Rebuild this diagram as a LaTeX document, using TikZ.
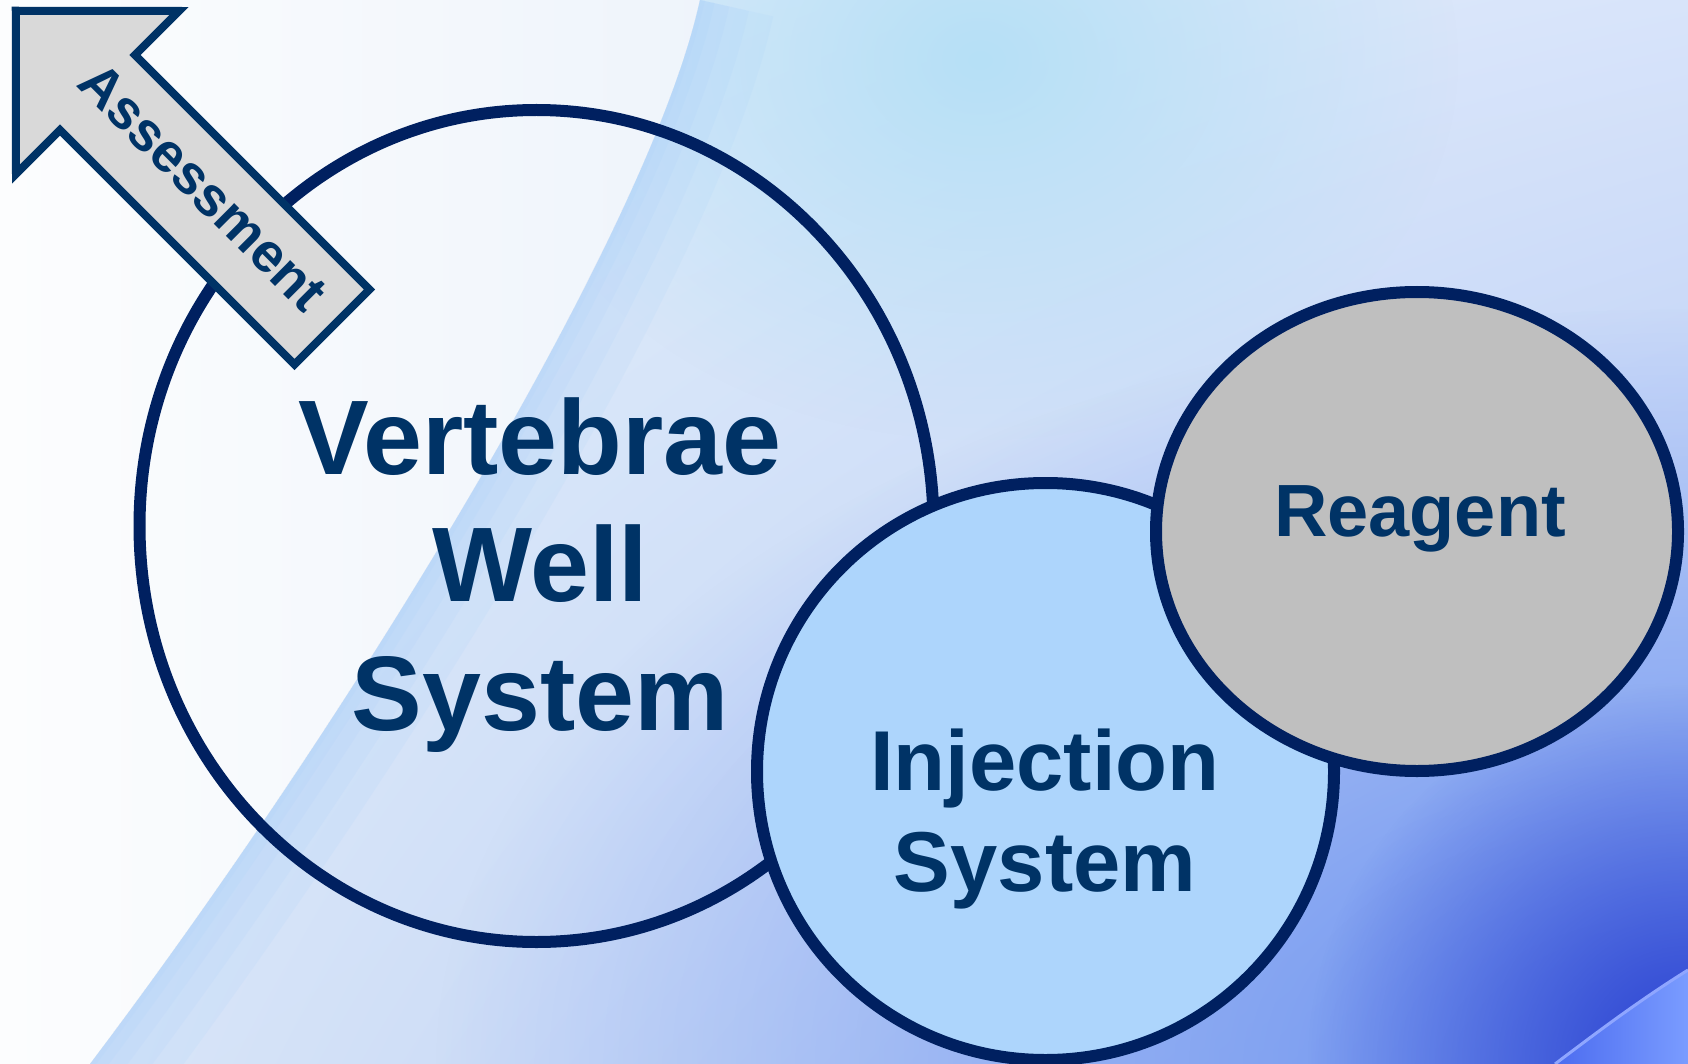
\documentclass[tikz,border=0pt]{standalone}
\usepackage{fontspec}
\setmainfont{Liberation Sans}
\usetikzlibrary{shapes.geometric,shadings,fadings}
\definecolor{navy}{HTML}{002060}
\definecolor{txt}{HTML}{003366}
\definecolor{injfill}{HTML}{ADD5FC}
\definecolor{reafill}{HTML}{BFBFBF}
\definecolor{arrfill}{HTML}{D9D9D9}
\definecolor{arrline}{HTML}{003366}
\definecolor{bgA}{HTML}{FCFDFE}
\definecolor{bgB}{HTML}{DCE8F7}
\definecolor{ulc}{HTML}{E4F1FB}
\definecolor{urc}{HTML}{D8E4FA}
\definecolor{llc}{HTML}{DCE8F8}
\definecolor{lrc}{HTML}{A8C0F4}
\definecolor{cyanish}{HTML}{B6E0F6}
\definecolor{medblue}{HTML}{6A90F0}
\definecolor{deep}{HTML}{2A40D0}
\definecolor{glow}{HTML}{A6CEF8}
\definecolor{cornA}{HTML}{4C6CF0}
\definecolor{cornB}{HTML}{7A9CFF}
\definecolor{cornL}{HTML}{8FA6FF}
\tikzfading[name=cornerfade, inner color=transparent!0, outer color=transparent!100]
\tikzset{
  ring/.style={draw=navy, line width=12pt, inner sep=0pt, outer sep=0pt},
  lbl/.style={text=txt, inner sep=0pt, anchor=base},
  bigfont/.style={font=\fontsize{106}{127}\selectfont\bfseries},
  midfont/.style={font=\fontsize{85}{102}\selectfont\bfseries},
  smallfont/.style={font=\fontsize{74}{89}\selectfont\bfseries},
  arrowfont/.style={font=\fontsize{55}{66}\selectfont\bfseries},
  bandline/.style={draw=glow, opacity=.13},
}
\begin{document}
\begin{tikzpicture}[x=1pt,y=-1pt]
\useasboundingbox (0,0) rectangle (1688,1064);
% background
\shade[left color=bgA, right color=bgB] (0,0) rectangle (1688,1064);
\begin{scope}
  \path[clip] (700,0) .. controls (650,230) and (350,720) .. (90,1064) -- (1688,1064) -- (1688,0) -- cycle;
  \shade[lower left=llc, upper left=ulc, lower right=lrc, upper right=urc] (0,0) rectangle (1688,1064);
  \fill[cyanish, path fading=cornerfade] (980,60) ellipse [x radius=480, y radius=380];
  \fill[medblue, path fading=cornerfade] (1688,1064) ellipse [x radius=1250, y radius=760];
  \fill[deep, path fading=cornerfade] (1688,1064) circle (380);
  \foreach \w in {10,30,60,100,150}
    \draw[bandline, line width=\w pt] (700,0) .. controls (650,230) and (350,720) .. (90,1064);
\end{scope}
\shade[left color=cornA, right color=cornB] (1555,1064) .. controls (1600,1030) and (1640,1000) .. (1688,970) -- (1688,1064) -- cycle;
\draw[cornL, line width=3pt] (1555,1064) .. controls (1600,1030) and (1640,1000) .. (1688,970);

% circles
\node[ring, ellipse, minimum width=794pt, minimum height=832pt] (vws) at (536.5,526) {};
\node[ring, circle, fill=injfill, minimum size=577pt] (inj) at (1045.5,771.5) {};
\node[ring, ellipse, fill=reafill, minimum width=522pt, minimum height=479pt] (rea) at (1417,531.5) {};

% arrow
\draw[draw=arrline, fill=arrfill, line width=8pt, line join=miter]
  (15.75,10.75) -- (179,11) -- (135,55) -- (369.5,289.5) -- (294.5,364.5) -- (60,130) -- (16,174) -- cycle;
\node[lbl, arrowfont, anchor=center, rotate=-45] (assess) at (203,187) {Assessment};

% labels
\node[lbl, bigfont] (v1) at (540,474) {Vertebrae};
\node[lbl, bigfont] (v2) at (540,601) {Well};
\node[lbl, bigfont] (v3) at (540,730) {System};
\node[lbl, midfont] (i1) at (1045,790) {Injection};
\node[lbl, midfont] (i2) at (1045,891) {System};
\node[lbl, smallfont] (r1) at (1420,536) {Reagent};
\end{tikzpicture}
\end{document}
